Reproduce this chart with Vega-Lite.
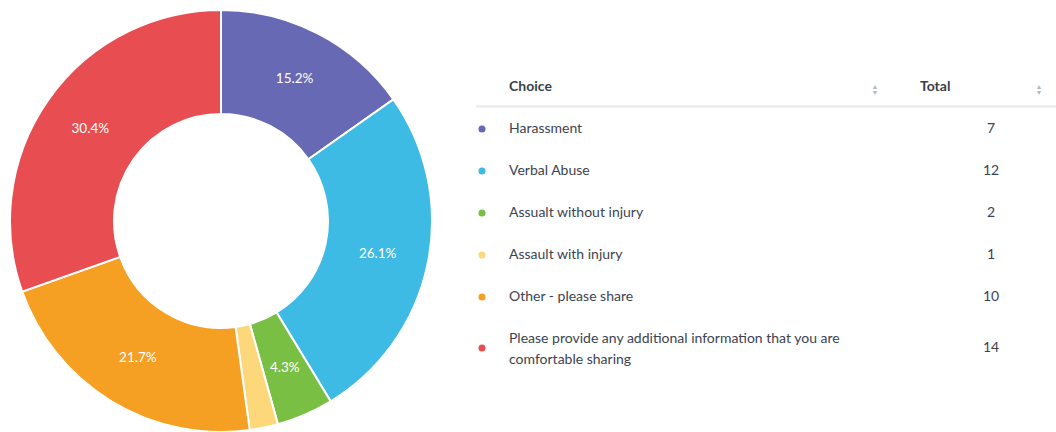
{
  "$schema": "https://vega.github.io/schema/vega-lite/v6.json",
  "padding": 0,
  "spacing": 33,
  "background": "white",
  "config": {"view": {"stroke": null}, "font": "Lato"},
  "datasets": {
    "choices": [
      {"choice": "Harassment", "label": "Harassment", "count": 7, "pct": "15.2%", "order": 1},
      {"choice": "Verbal Abuse", "label": "Verbal Abuse", "count": 12, "pct": "26.1%", "order": 2},
      {"choice": "Assault without injury", "label": "Assualt without injury", "count": 2, "pct": "4.3%", "order": 3},
      {"choice": "Assault with injury", "label": "Assault with injury", "count": 1, "pct": "", "order": 4},
      {"choice": "Other - please share", "label": "Other - please share", "count": 10, "pct": "21.7%", "order": 5},
      {"choice": "Please provide any additional information that you are comfortable sharing", "label": "Please provide any additional information that you are\ncomfortable sharing", "count": 14, "pct": "30.4%", "order": 6}
    ],
    "header": [{"row": "header"}]
  },
  "resolve": {"scale": {"color": "shared"}},
  "hconcat": [
    {
      "width": 442,
      "height": 442,
      "data": {"name": "choices"},
      "encoding": {
        "theta": {"field": "count", "type": "quantitative", "stack": true},
        "order": {"field": "order", "type": "quantitative"},
        "color": {
          "field": "choice",
          "type": "nominal",
          "legend": null,
          "scale": {
            "domain": ["Harassment", "Verbal Abuse", "Assault without injury", "Assault with injury", "Other - please share", "Please provide any additional information that you are comfortable sharing"],
            "range": ["#6769b4", "#3dbbe4", "#79bf44", "#fdd87b", "#f5a023", "#e84e51"]
          }
        }
      },
      "layer": [
        {"mark": {"type": "arc", "outerRadius": 211, "innerRadius": 107, "stroke": "white", "strokeWidth": 2}},
        {
          "mark": {"type": "text", "radius": 160, "fontSize": 13.5, "align": "center", "baseline": "middle"},
          "encoding": {"text": {"field": "pct", "type": "nominal"}, "color": {"value": "white"}}
        }
      ]
    },
    {
      "width": 581,
      "height": 432,
      "encoding": {
        "y": {
          "field": "choice",
          "type": "nominal",
          "axis": null,
          "scale": {
            "type": "band",
            "domain": ["header", "Harassment", "Verbal Abuse", "Assault without injury", "Assault with injury", "Other - please share", "Please provide any additional information that you are comfortable sharing"],
            "range": [66, 360],
            "paddingInner": 0,
            "paddingOuter": 0
          }
        }
      },
      "layer": [
        {
          "data": {"name": "header"},
          "mark": {"type": "rule", "stroke": "#e8e8e8", "strokeWidth": 2, "yOffset": -1.5},
          "encoding": {"y": {"field": "row", "type": "nominal", "bandPosition": 1}}
        },
        {
          "data": {"name": "header"},
          "mark": {"type": "text", "align": "left", "baseline": "middle", "fontSize": 14, "fontWeight": "bold", "fill": "#3a3f4b", "text": "Choice"},
          "encoding": {"y": {"field": "row", "type": "nominal"}, "x": {"datum": 33, "type": "quantitative", "scale": {"domain": [0, 581], "nice": false, "zero": true}, "axis": null}}
        },
        {
          "data": {"name": "header"},
          "mark": {"type": "text", "align": "left", "baseline": "middle", "fontSize": 14, "fontWeight": "bold", "fill": "#3a3f4b", "text": "Total"},
          "encoding": {"y": {"field": "row", "type": "nominal"}, "x": {"datum": 444, "type": "quantitative"}}
        },
        {
          "data": {"name": "header"},
          "mark": {"type": "text", "align": "center", "baseline": "middle", "fontSize": 7, "lineBreak": "\n", "lineHeight": 6, "fill": "#b3b8c1", "text": "▲\n▼"},
          "encoding": {"y": {"field": "row", "type": "nominal"}, "x": {"datum": 399, "type": "quantitative"}}
        },
        {
          "data": {"name": "header"},
          "mark": {"type": "text", "align": "center", "baseline": "middle", "fontSize": 7, "lineBreak": "\n", "lineHeight": 6, "fill": "#b3b8c1", "text": "▲\n▼"},
          "encoding": {"y": {"field": "row", "type": "nominal"}, "x": {"datum": 563, "type": "quantitative"}}
        },
        {
          "data": {"name": "choices"},
          "transform": [{"filter": "datum.order < 6"}],
          "layer": [
            {
              "mark": {"type": "circle", "size": 50, "opacity": 1},
              "encoding": {"x": {"datum": 6, "type": "quantitative"}, "color": {"field": "choice", "type": "nominal", "legend": null}}
            },
            {
              "mark": {"type": "text", "align": "left", "baseline": "middle", "fontSize": 14, "fill": "#3c4350"},
              "encoding": {"x": {"datum": 33, "type": "quantitative"}, "text": {"field": "label"}}
            },
            {
              "mark": {"type": "text", "align": "center", "baseline": "middle", "fontSize": 14, "fill": "#3c4350"},
              "encoding": {"x": {"datum": 515, "type": "quantitative"}, "text": {"field": "count", "type": "quantitative"}}
            }
          ]
        },
        {
          "data": {"name": "choices"},
          "transform": [{"filter": "datum.order == 6"}],
          "layer": [
            {
              "mark": {"type": "circle", "size": 50, "opacity": 1, "yOffset": 9},
              "encoding": {"x": {"datum": 6, "type": "quantitative"}, "color": {"field": "choice", "type": "nominal", "legend": null}}
            },
            {
              "mark": {"type": "text", "align": "left", "baseline": "middle", "fontSize": 14, "fill": "#3c4350", "lineBreak": "\n", "lineHeight": 21},
              "encoding": {"x": {"datum": 33, "type": "quantitative"}, "text": {"field": "label"}}
            },
            {
              "mark": {"type": "text", "align": "center", "baseline": "middle", "fontSize": 14, "fill": "#3c4350", "yOffset": 9},
              "encoding": {"x": {"datum": 515, "type": "quantitative"}, "text": {"field": "count", "type": "quantitative"}}
            }
          ]
        }
      ]
    }
  ]
}
